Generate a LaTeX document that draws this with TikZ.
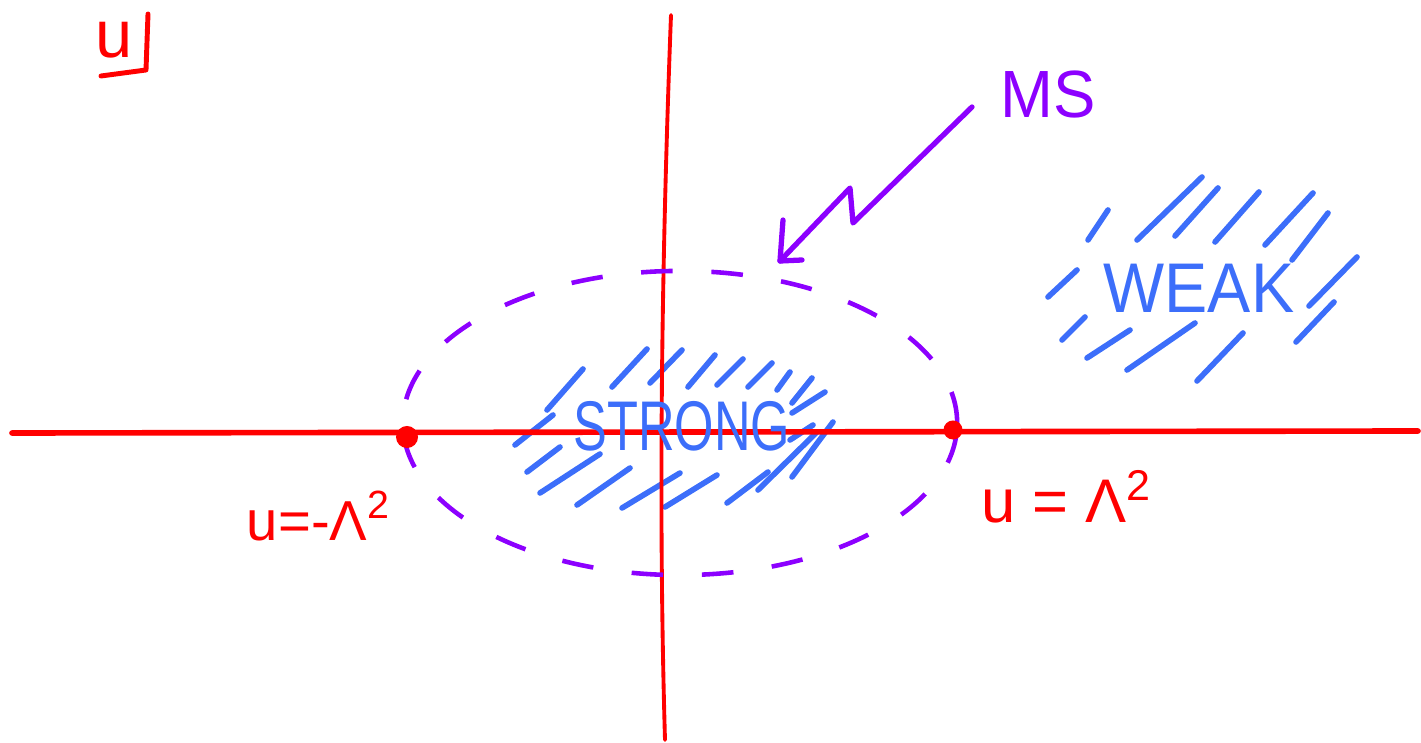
\documentclass[tikz,border=0pt]{standalone}
\usepackage{fontspec}
\setmainfont{Liberation Sans}
\definecolor{pred}{RGB}{255,0,0}
\definecolor{ppurple}{RGB}{140,0,255}
\definecolor{pblue}{RGB}{60,110,250}
\begin{document}
\begin{tikzpicture}[x=0.01cm,y=-0.01cm,
  axis/.style={draw=pred,line width=1.6pt,line cap=round},
  redtxt/.style={text=pred,inner sep=0pt,font=\fontsize{19}{22}\selectfont},
  bluetxt/.style={text=pblue,inner sep=0pt,font=\fontsize{20}{24}\selectfont},
  purtxt/.style={text=ppurple,inner sep=0pt,font=\fontsize{19}{22}\selectfont},
  hatch/.style={draw=pblue,line width=1.6pt,line cap=round},
  msline/.style={draw=ppurple,line width=1.5pt,line cap=round,line join=round},
  msdash/.style={draw=ppurple,line width=1.3pt,dash pattern=on 9pt off 11pt},
  dot/.style={circle,fill=pred,inner sep=0pt,minimum size=#1}]
\useasboundingbox (0,0) rectangle (1421,743);

% hatching STRONG
\foreach \a/\b/\c/\d in {547/410/583/369, 612/387/647/349, 650/383/682/350, 688/387/715/355,
  717/385/743/359, 748/387/772/363, 777/390/790/372, 792/403/812/378, 792/413/825/392,
  515/445/553/415, 527/472/560/447, 540/493/600/454, 577/505/630/468, 622/508/680/473,
  665/507/717/475, 727/503/768/472, 758/490/817/432, 792/477/833/422, 790/440/813/425}
  \draw[hatch] (\a,\b) -- (\c,\d);
% hatching WEAK
\foreach \a/\b/\c/\d in {1088/240/1108/210, 1137/240/1202/177, 1175/236/1218/188, 1215/242/1259/192,
  1265/245/1313/193, 1292/260/1328/213, 1309/306/1357/257, 1296/342/1334/302,
  1048/297/1077/270, 1062/340/1085/317, 1087/358/1130/330, 1127/370/1195/323, 1197/381/1243/333}
  \draw[hatch] (\a,\b) -- (\c,\d);

% axes
\coordinate (hL) at (12,433);
\coordinate (hR) at (1418,431);
\coordinate (vT) at (671,15);
\coordinate (vB) at (665,740);
\draw[axis] (hL) -- (hR);
\draw[axis,line width=1.1pt] (vT) .. controls (662,250) and (658,500) .. (vB);

% MS ellipse
\draw[msdash] (680,423) ellipse [x radius=2.77cm, y radius=1.52cm];

% points
\node[dot=0.22cm] (pL) at (407,437) {};
\node[dot=0.19cm] (pR) at (953,430) {};

% labels
\node[redtxt,font=\fontsize{16}{19}\selectfont] (lL) at (319,516) {u=-Λ\textsuperscript{2}};
\node[redtxt,font=\fontsize{17.5}{20}\selectfont] (lR) at (1067,497) {u = Λ\textsuperscript{2}};
\node[redtxt] (uplane) at (114,40) {u};
\draw[draw=pred,line width=1.4pt,line cap=round,line join=round] (148,14) -- (146,70) -- (101,76);

\node[bluetxt] (strong) at (682,426) {\scalebox{0.72}[1]{STRONG}};
\node[bluetxt] (weak) at (1199,288) {\scalebox{0.92}[1]{WEAK}};
\node[purtxt] (ms) at (1048,95) {\scalebox{0.95}[1]{MS}};

% MS arrow
\coordinate (msS) at (972,107);
\coordinate (msT) at (780,261);
\draw[msline] (msS) -- (853,223) -- (850,188) -- (msT);
\draw[msline] (783,220) -- (msT) -- (802,260);
\end{tikzpicture}
\end{document}
